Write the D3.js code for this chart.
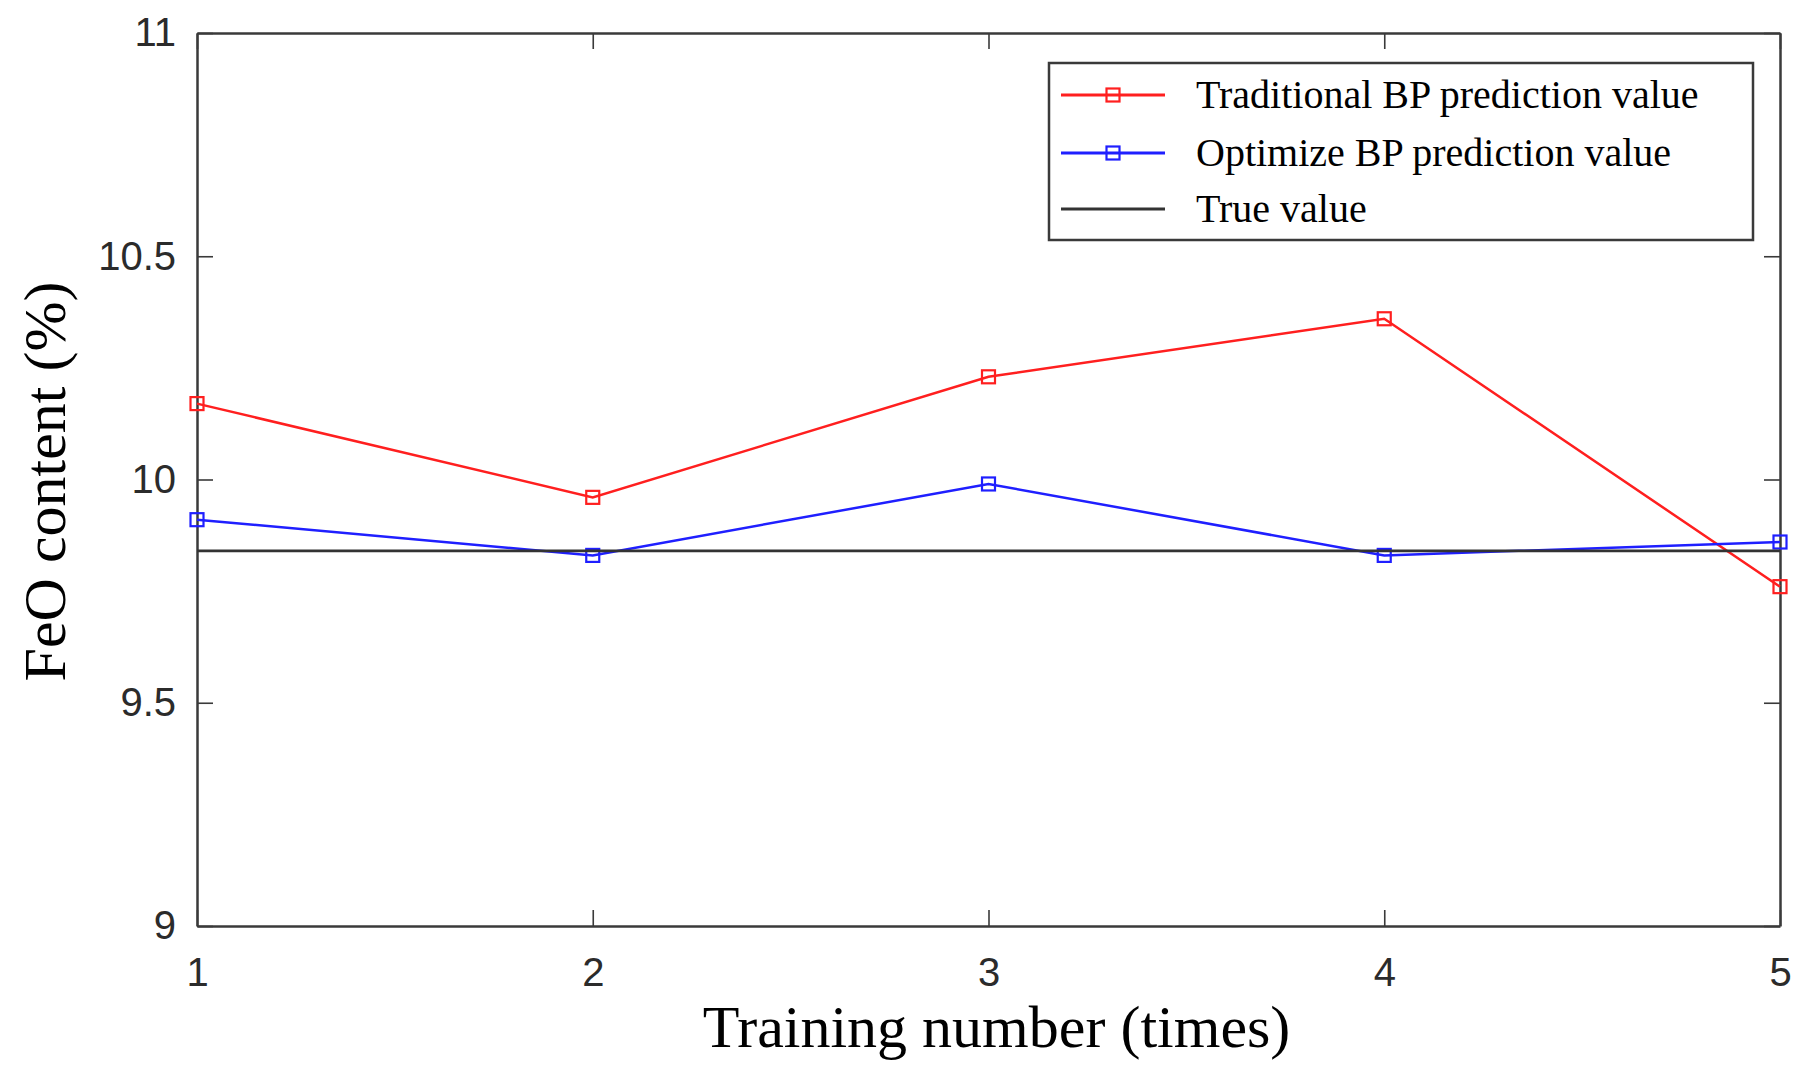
<!DOCTYPE html>
<html lang="en">
  <head>
    <meta charset="UTF-8" />
    <title>FeO content prediction</title>
    <script src="https://d3js.org/d3.v7.min.js"></script>
    <style>
      html,
      body {
        margin: 0;
        padding: 0;
        background: #ffffff;
      }
      .tick text {
        font-family: "Liberation Sans", Arial, sans-serif;
        font-size: 40px;
        fill: #2b2b2b;
      }
      .serif {
        font-family: "Liberation Serif", "Times New Roman", serif;
        fill: #000;
      }
    </style>
  </head>
  <body>
    <div id="viz"></div>
    <script>
      // chart data
      const trainingNumbers = [1, 2, 3, 4, 5];
      const traditionalBP = [10.17, 9.96, 10.23, 10.36, 9.76];
      const optimizeBP = [9.91, 9.83, 9.99, 9.83, 9.86];
      const trueValue = 9.84;
      const yTicks = [9, 9.5, 10, 10.5, 11];
      const xTicks = [1, 2, 3, 4, 5];
      const legendLabels = [
        "Traditional BP prediction value",
        "Optimize BP prediction value",
        "True value",
      ];

      const width = 1814;
      const height = 1078;
      const margin = { top: 33, right: 34, bottom: 152, left: 197 };
      const innerW = width - margin.left - margin.right;
      const innerH = height - margin.top - margin.bottom;

      const red = "#ff1f1f";
      const blue = "#1f1fff";
      const axisColor = "#3a3a3a";

      const svg = d3
        .select("#viz")
        .append("svg")
        .attr("width", width)
        .attr("height", height)
        .style("display", "block");

      const viz = svg
        .append("g")
        .attr("transform", `translate(${margin.left},${margin.top})`);

      const xScale = d3.scaleLinear().domain([1, 5]).range([0, innerW]);
      const yScale = d3.scaleLinear().domain([9, 11]).range([innerH, 0]);

      // axes on all four sides, ticks pointing inward
      const styleAxis = (g) => {
        g.select(".domain")
          .attr("stroke", axisColor)
          .attr("stroke-width", 2.5);
        g.selectAll(".tick line")
          .attr("stroke", axisColor)
          .attr("stroke-width", 1.6);
      };

      viz
        .append("g")
        .attr("transform", `translate(0,${innerH})`)
        .call(
          d3
            .axisBottom(xScale)
            .tickValues(xTicks)
            .tickFormat(d3.format("d"))
            .tickSizeInner(-16)
            .tickSizeOuter(0)
            .tickPadding(32)
        )
        .call(styleAxis);

      viz
        .append("g")
        .call(
          d3
            .axisLeft(yScale)
            .tickValues(yTicks)
            .tickFormat((d) => String(d))
            .tickSizeInner(-16)
            .tickSizeOuter(0)
            .tickPadding(21)
        )
        .call(styleAxis);

      viz
        .append("g")
        .call(
          d3
            .axisTop(xScale)
            .tickValues(xTicks)
            .tickFormat("")
            .tickSizeInner(-16)
            .tickSizeOuter(0)
        )
        .call(styleAxis);

      viz
        .append("g")
        .attr("transform", `translate(${innerW},0)`)
        .call(
          d3
            .axisRight(yScale)
            .tickValues(yTicks)
            .tickFormat("")
            .tickSizeInner(-16)
            .tickSizeOuter(0)
        )
        .call(styleAxis);

      viz.selectAll(".tick text").attr("font-family", null).attr("font-size", null);

      // series
      const line = d3
        .line()
        .x((d, i) => xScale(trainingNumbers[i]))
        .y((d) => yScale(d));

      const series = [
        { values: traditionalBP, color: red },
        { values: optimizeBP, color: blue },
      ];

      const markerSize = 13;

      series.forEach((s) => {
        viz
          .append("path")
          .datum(s.values)
          .attr("fill", "none")
          .attr("stroke", s.color)
          .attr("stroke-width", 2.5)
          .attr("d", line);

        viz
          .selectAll(null)
          .data(s.values)
          .join("rect")
          .attr("x", (d, i) => xScale(trainingNumbers[i]) - markerSize / 2)
          .attr("y", (d) => yScale(d) - markerSize / 2)
          .attr("width", markerSize)
          .attr("height", markerSize)
          .attr("fill", "none")
          .attr("stroke", s.color)
          .attr("stroke-width", 2.2);
      });

      viz
        .append("line")
        .attr("x1", xScale(1))
        .attr("x2", xScale(5))
        .attr("y1", yScale(trueValue))
        .attr("y2", yScale(trueValue))
        .attr("stroke", "#333")
        .attr("stroke-width", 2.8);

      // axis titles
      svg
        .append("text")
        .attr("class", "serif")
        .attr("x", margin.left + innerW / 2 + 8)
        .attr("y", 1047)
        .attr("text-anchor", "middle")
        .attr("font-size", 60)
        .text("Training number (times)");

      svg
        .append("text")
        .attr("class", "serif")
        .attr("transform", `translate(65,${margin.top + innerH / 2 + 2}) rotate(-90)`)
        .attr("text-anchor", "middle")
        .attr("font-size", 60)
        .text("FeO content (%)");

      // legend
      const legend = svg.append("g").attr("transform", "translate(1049,63)");

      legend
        .append("rect")
        .attr("width", 704)
        .attr("height", 177)
        .attr("fill", "#fff")
        .attr("stroke", axisColor)
        .attr("stroke-width", 2.5);

      const legendColors = [red, blue, "#333"];
      const rowY = [32, 90, 146];

      legendLabels.forEach((label, i) => {
        const row = legend.append("g").attr("transform", `translate(0,${rowY[i]})`);
        row
          .append("line")
          .attr("x1", 12)
          .attr("x2", 116)
          .attr("stroke", legendColors[i])
          .attr("stroke-width", 2.8);
        if (i < 2) {
          row
            .append("rect")
            .attr("x", 64 - markerSize / 2)
            .attr("y", -markerSize / 2)
            .attr("width", markerSize)
            .attr("height", markerSize)
            .attr("fill", "none")
            .attr("stroke", legendColors[i])
            .attr("stroke-width", 2.2);
        }
        row
          .append("text")
          .attr("class", "serif")
          .attr("x", 147)
          .attr("y", 13)
          .attr("font-size", 40)
          .text(label);
      });
    </script>
  </body>
</html>
